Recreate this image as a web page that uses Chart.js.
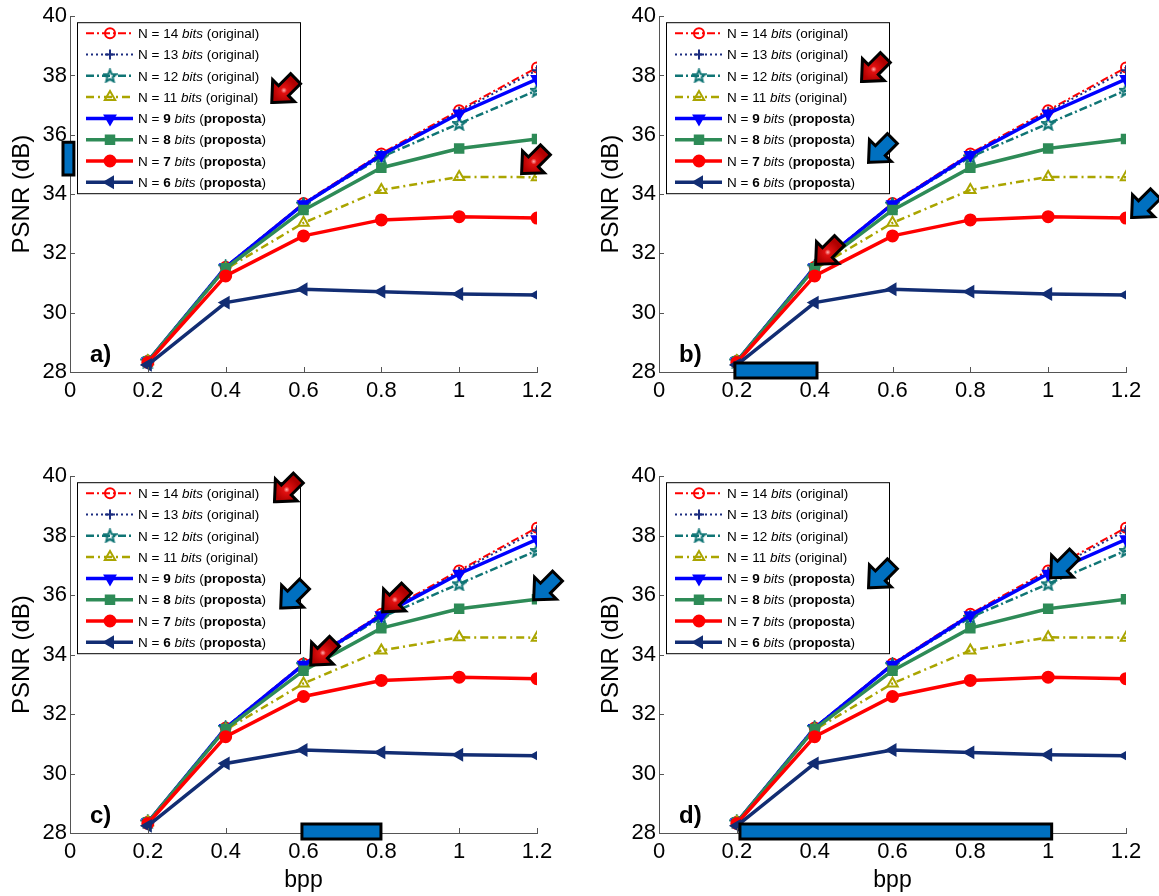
<!DOCTYPE html>
<html>
<head>
<meta charset="utf-8">
<script src="https://cdn.jsdelivr.net/npm/chart.js@4.4.0/dist/chart.umd.min.js"></script>
<style>
  body { margin: 0; background: #fff; }
  #wrap { position: relative; width: 1159px; height: 896px; background: #fff; overflow: hidden; }
  #wrap canvas { position: absolute; }
</style>
</head>
<body>
<div id="wrap">
  <canvas id="chart-a" width="575" height="420" style="left:0px;top:0px"></canvas>
  <canvas id="chart-b" width="570" height="420" style="left:589px;top:0px"></canvas>
  <canvas id="chart-c" width="575" height="436" style="left:0px;top:460px"></canvas>
  <canvas id="chart-d" width="570" height="436" style="left:589px;top:460px"></canvas>
</div>
<script>
// bit rate (bpp) on x, PSNR (dB) per word length on y
const bpp = [0.2, 0.4, 0.6, 0.8, 1.0, 1.2];
const psnr14 = [28.38, 31.55, 33.70, 35.37, 36.83, 38.27];
const psnr13 = [28.36, 31.54, 33.68, 35.33, 36.78, 38.18];
const psnr12 = [28.37, 31.55, 33.66, 35.25, 36.38, 37.50];
const psnr11 = [28.36, 31.47, 33.03, 34.14, 34.58, 34.57];
const psnr9 = [28.36, 31.53, 33.66, 35.32, 36.72, 37.88];
const psnr8 = [28.36, 31.50, 33.46, 34.89, 35.54, 35.86];
const psnr7 = [28.32, 31.24, 32.59, 33.13, 33.24, 33.19];
const psnr6 = [28.24, 30.34, 30.79, 30.71, 30.63, 30.60];

const seriesBits = [14, 13, 12, 11, 9, 8, 7, 6];
const seriesKind = ["original", "original", "original", "original",
                    "proposta", "proposta", "proposta", "proposta"];
const seriesValues = [psnr14, psnr13, psnr12, psnr11, psnr9, psnr8, psnr7, psnr6];

const xTickValues = [0, 0.2, 0.4, 0.6, 0.8, 1, 1.2];
const yTickValues = [28, 30, 32, 34, 36, 38, 40];
const panelLabels = ["a)", "b)", "c)", "d)"];

// star marker for N = 12
function makeStar(color) {
  const c = document.createElement("canvas");
  c.width = 15; c.height = 15;
  const g = c.getContext("2d");
  g.beginPath();
  for (let i = 0; i < 10; i++) {
    const r = i % 2 === 0 ? 6.5 : 2.8;
    const a = -Math.PI / 2 + i * Math.PI / 5;
    const px = 7.5 + r * Math.cos(a), py = 8 + r * Math.sin(a);
    if (i === 0) g.moveTo(px, py); else g.lineTo(px, py);
  }
  g.closePath();
  g.strokeStyle = color; g.lineWidth = 2;
  g.stroke();
  return c;
}

const seriesStyle = [
  { color: "#ff0000", width: 2, dash: [8, 3, 2, 3], point: "circle", radius: 5, rot: 0, filled: false },
  { color: "#1c2d80", width: 2, dash: [2, 3], point: "cross", radius: 5, rot: 0, filled: false },
  { color: "#107575", width: 2.5, dash: [8, 3, 2, 3], point: makeStar("#107575"), radius: 6, rot: 0, filled: false },
  { color: "#aaa500", width: 2.5, dash: [8, 4, 2, 4], point: "triangle", radius: 6, rot: 0, filled: false },
  { color: "#0000ff", width: 3.5, dash: [], point: "triangle", radius: 6, rot: 180, filled: true },
  { color: "#2e8b57", width: 3.5, dash: [], point: "rect", radius: 6, rot: 0, filled: true },
  { color: "#ff0000", width: 3.5, dash: [], point: "circle", radius: 5.5, rot: 0, filled: true },
  { color: "#122d73", width: 3.5, dash: [], point: "triangle", radius: 6, rot: -90, filled: true }
];

// annotation arrows (tip in data units) and highlight boxes per panel
const panelArrows = [
  [{ x: 0.517, y: 37.07, c: "red" }, { x: 1.159, y: 34.67, c: "red" }],
  [{ x: 0.519, y: 37.78, c: "red" }, { x: 0.537, y: 35.05, c: "blue" },
   { x: 0.401, y: 31.61, c: "red" }, { x: 1.213, y: 33.19, c: "blue" }],
  [{ x: 0.524, y: 39.12, c: "red" }, { x: 0.540, y: 35.55, c: "blue" },
   { x: 0.617, y: 33.63, c: "red" }, { x: 0.802, y: 35.42, c: "red" },
   { x: 1.190, y: 35.82, c: "blue" }],
  [{ x: 0.537, y: 36.23, c: "blue" }, { x: 1.005, y: 36.56, c: "blue" }]
];
const panelBoxes = [
  [{ x0: -0.018, x1: 0.01, y0: 34.64, y1: 35.75 }],
  [{ x0: 0.195, x1: 0.406, y0: 27.8, y1: 28.3 }],
  [{ x0: 0.596, x1: 0.799, y0: 27.8, y1: 28.3 }],
  [{ x0: 0.208, x1: 1.009, y0: 27.8, y1: 28.3 }]
];

const FONT = "'Liberation Sans', Arial, Helvetica, sans-serif";
Chart.defaults.font.family = FONT;
Chart.defaults.color = "#000";

function drawArrow(ctx, x, y, kind) {
  ctx.save();
  ctx.translate(x, y);
  ctx.rotate(-Math.PI / 4);
  ctx.beginPath();
  ctx.moveTo(3, 0);
  ctx.lineTo(16, 12);
  ctx.lineTo(16, 5.5);
  ctx.lineTo(33, 5.5);
  ctx.lineTo(33, -5.5);
  ctx.lineTo(16, -5.5);
  ctx.lineTo(16, -12);
  ctx.closePath();
  ctx.lineJoin = "miter";
  ctx.lineWidth = 6;
  ctx.strokeStyle = "#000";
  ctx.stroke();
  if (kind === "red") {
    const g = ctx.createRadialGradient(18, 0, 0, 18, 0, 12);
    g.addColorStop(0, "#ffb0b0");
    g.addColorStop(0.25, "#e01010");
    g.addColorStop(1, "#b00000");
    ctx.fillStyle = g;
  } else {
    ctx.fillStyle = "#0070c0";
  }
  ctx.fill();
  ctx.restore();
}

function legendParts(i) {
  if (seriesKind[i] === "original") {
    return [["N = " + seriesBits[i] + " ", ""], ["bits", "italic "], [" (original)", ""]];
  }
  return [["N = ", ""], [String(seriesBits[i]), "bold "], [" ", ""], ["bits", "italic "],
          [" (", ""], ["proposta", "bold "], [")", ""]];
}

const decorPlugin = {
  id: "decor",
  afterDatasetsDraw(chart, args, opts) {
    const ctx = chart.ctx;
    const area = chart.chartArea;
    const xs = chart.scales.x, ys = chart.scales.y;

    // inward ticks
    ctx.save();
    ctx.strokeStyle = "#555";
    ctx.lineWidth = 1;
    ctx.beginPath();
    yTickValues.forEach((v) => {
      const py = Math.round(ys.getPixelForValue(v)) + 0.5;
      ctx.moveTo(area.left, py);
      ctx.lineTo(area.left + 5, py);
    });
    xTickValues.forEach((v) => {
      const px = Math.round(xs.getPixelForValue(v)) + 0.5;
      ctx.moveTo(px, area.bottom);
      ctx.lineTo(px, area.bottom - 5);
    });
    ctx.stroke();
    ctx.restore();

    // legend box
    const lx = area.left + 7, ly = area.top + 6;
    ctx.save();
    ctx.fillStyle = "#fff";
    ctx.fillRect(lx, ly, 223, 171);
    ctx.strokeStyle = "#000";
    ctx.lineWidth = 1;
    ctx.strokeRect(lx + 0.5, ly + 0.5, 223, 171);
    seriesStyle.forEach((s, i) => {
      const ry = area.top + 17 + i * 21.3;
      ctx.strokeStyle = s.color;
      ctx.lineWidth = s.width;
      ctx.setLineDash(s.dash);
      ctx.beginPath();
      ctx.moveTo(area.left + 16, ry);
      ctx.lineTo(area.left + 63, ry);
      ctx.stroke();
      ctx.setLineDash([]);
      ctx.fillStyle = s.filled ? s.color : "rgba(0,0,0,0)";
      ctx.lineWidth = 2;
      Chart.helpers.drawPoint(ctx, { pointStyle: s.point, rotation: s.rot, radius: s.radius, borderWidth: 2 },
        area.left + 40, ry);
      let tx = area.left + 68;
      ctx.fillStyle = "#000";
      ctx.textBaseline = "middle";
      legendParts(i).forEach(([t, f]) => {
        ctx.font = f + "13.5px " + FONT;
        ctx.fillText(t, tx, ry + 1);
        tx += ctx.measureText(t).width;
      });
    });
    ctx.restore();

    // panel label
    ctx.save();
    ctx.font = "bold 24px " + FONT;
    ctx.fillStyle = "#000";
    ctx.textBaseline = "alphabetic";
    ctx.fillText(opts.label, area.left + 20, area.bottom - 10);
    ctx.restore();

    // highlight boxes
    ctx.save();
    opts.boxes.forEach((b) => {
      const x0 = xs.getPixelForValue(b.x0), x1 = xs.getPixelForValue(b.x1);
      const y0 = ys.getPixelForValue(b.y1), y1 = ys.getPixelForValue(b.y0);
      ctx.fillStyle = "#0070c0";
      ctx.strokeStyle = "#000";
      ctx.lineWidth = 3;
      ctx.beginPath();
      ctx.rect(x0, y0, x1 - x0, y1 - y0);
      ctx.fill();
      ctx.stroke();
    });
    ctx.restore();

    // arrows
    opts.arrows.forEach((a) => {
      drawArrow(ctx, xs.getPixelForValue(a.x), ys.getPixelForValue(a.y), a.c);
    });
  }
};

function buildDatasets() {
  // later series on top, as in the original plot
  return seriesValues.map((vals, i) => {
    const s = seriesStyle[i];
    return {
      label: "N = " + seriesBits[i] + " bits (" + seriesKind[i] + ")",
      data: bpp.map((x, k) => ({ x: x, y: vals[k] })),
      borderColor: s.color,
      borderWidth: s.width,
      borderDash: s.dash,
      backgroundColor: s.color,
      pointStyle: s.point,
      pointRotation: s.rot,
      pointRadius: s.radius,
      pointBorderWidth: 2,
      pointBorderColor: s.color,
      pointBackgroundColor: s.filled ? s.color : "rgba(0,0,0,0)",
      tension: 0,
      fill: false,
      order: seriesValues.length - i
    };
  });
}

const panels = ["a", "b", "c", "d"];
panels.forEach((p, idx) => {
  const canvas = document.getElementById("chart-" + p);
  const bottomRow = idx >= 2;
  const xHeight = canvas.height - (bottomRow ? 373 : 372);
  new Chart(canvas.getContext("2d"), {
    type: "line",
    data: { datasets: buildDatasets() },
    plugins: [decorPlugin],
    options: {
      responsive: false,
      animation: false,
      events: [],
      layout: { padding: { top: 16, right: canvas.width - 537, left: 0, bottom: 0 } },
      plugins: {
        legend: { display: false },
        tooltip: { enabled: false },
        decor: { label: panelLabels[idx], arrows: panelArrows[idx], boxes: panelBoxes[idx] }
      },
      scales: {
        x: {
          type: "linear",
          min: 0,
          max: 1.2,
          afterBuildTicks: (s) => { s.ticks = xTickValues.map((v) => ({ value: v })); },
          afterFit: (s) => { s.height = xHeight; },
          grid: { display: false, drawTicks: false },
          border: { display: true, color: "#555", width: 1 },
          ticks: {
            padding: 6,
            maxRotation: 0,
            autoSkip: false,
            font: { size: 22 },
            color: "#000",
            callback: (v) => String(Math.round(v * 10) / 10)
          },
          title: {
            display: bottomRow,
            text: "bpp",
            font: { size: 23 },
            color: "#000",
            padding: { top: 0, bottom: 2 }
          }
        },
        y: {
          min: 28,
          max: 40,
          afterBuildTicks: (s) => { s.ticks = yTickValues.map((v) => ({ value: v })); },
          afterFit: (s) => { s.width = 70; },
          grid: { display: false, drawTicks: false },
          border: { display: true, color: "#555", width: 1 },
          ticks: {
            padding: 3,
            autoSkip: false,
            font: { size: 22 },
            color: "#000",
            callback: (v) => String(v)
          },
          title: {
            display: true,
            text: "PSNR (dB)",
            font: { size: 24 },
            color: "#000",
            padding: { top: 8, bottom: 0 }
          }
        }
      }
    }
  });
});
</script>
</body>
</html>
